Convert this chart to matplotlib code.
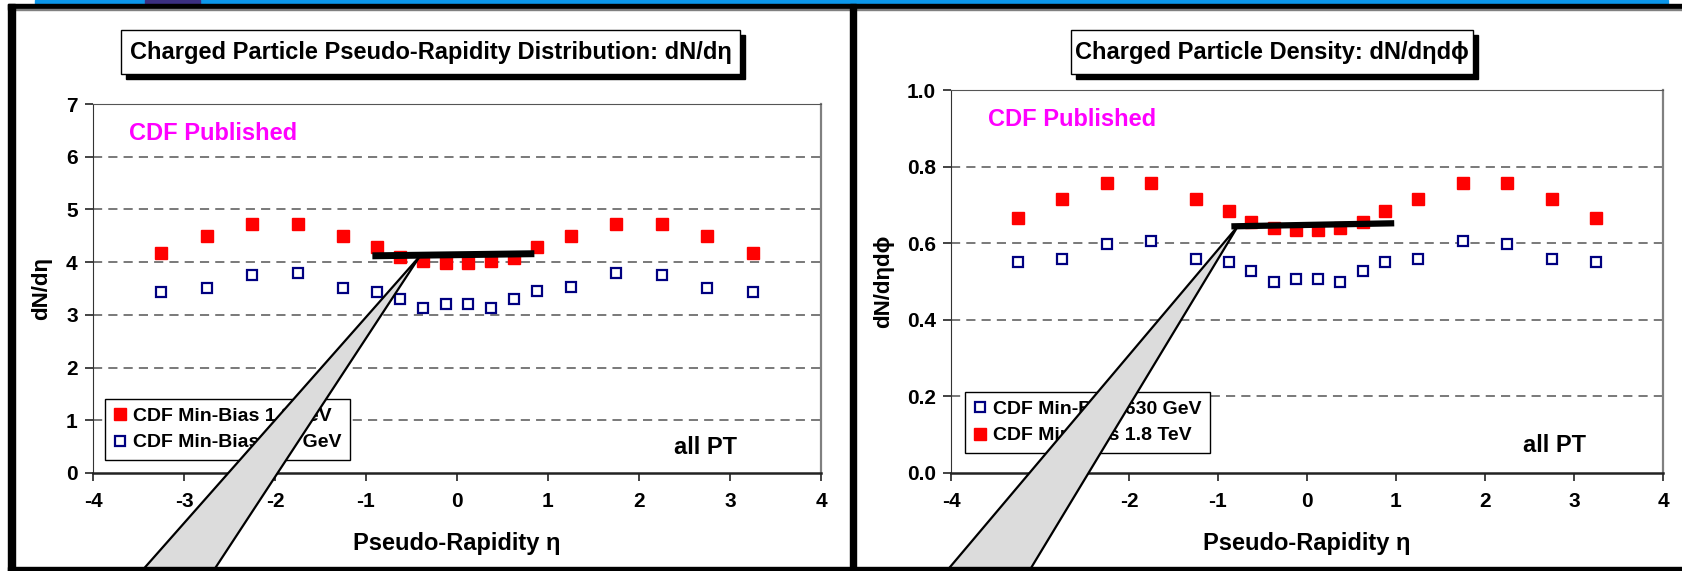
import numpy as np
import matplotlib
matplotlib.use('Agg')
import matplotlib.pyplot as plt
from matplotlib.patches import Rectangle, Polygon

plt.rcParams['font.family'] = ['Liberation Sans', 'DejaVu Sans']
plt.rcParams['font.weight'] = 'bold'
plt.rcParams['axes.unicode_minus'] = False

# data
eta = [-3.25, -2.75, -2.25, -1.75, -1.25, -0.875, -0.625, -0.375, -0.125,
       0.125, 0.375, 0.625, 0.875, 1.25, 1.75, 2.25, 2.75, 3.25]
dndeta_1800 = [4.18, 4.49, 4.73, 4.73, 4.49, 4.29, 4.09, 4.02, 3.99,
               3.99, 4.02, 4.07, 4.29, 4.49, 4.73, 4.73, 4.49, 4.18]
dndeta_630 = [3.44, 3.51, 3.75, 3.80, 3.51, 3.44, 3.30, 3.13, 3.20,
              3.20, 3.13, 3.31, 3.45, 3.52, 3.80, 3.75, 3.51, 3.44]
density_1800 = [0.665, 0.715, 0.756, 0.756, 0.715, 0.685, 0.655, 0.640, 0.635,
                0.635, 0.640, 0.655, 0.685, 0.715, 0.756, 0.756, 0.715, 0.665]
density_630 = [0.550, 0.559, 0.598, 0.607, 0.559, 0.550, 0.527, 0.498, 0.507,
               0.507, 0.498, 0.527, 0.550, 0.559, 0.607, 0.598, 0.559, 0.550]

label_1800 = 'CDF Min-Bias 1.8 TeV'
label_630 = 'CDF Min-Bias 630 GeV'
xticks = [-4, -3, -2, -1, 0, 1, 2, 3, 4]

W, H = 1683, 571
fig = plt.figure(figsize=(W / 100, H / 100), dpi=100)
fig.patch.set_facecolor('white')

RED = '#ff0000'
NAVY = '#000080'


def style_axes(ax, ymax, yticks, fmt):
    ax.set_xlim(-4, 4)
    ax.set_ylim(0, ymax)
    ax.set_xticks(xticks)
    ax.set_yticks(yticks)
    ax.set_yticklabels([fmt.format(v) for v in yticks])
    ax.tick_params(axis='both', direction='out', length=6, width=1.2,
                   labelsize=15, color='#222222')
    ax.tick_params(axis='x', pad=8)
    ax.tick_params(axis='y', pad=5)
    for v in yticks[1:-1]:
        ax.axhline(v, color='#555555', lw=1.1, ls=(0, (6, 4)), zorder=1)
    ax.spines['left'].set_color('#333333')
    ax.spines['bottom'].set_color('#222222')
    ax.spines['bottom'].set_linewidth(1.8)
    ax.spines['top'].set_color('#555555')
    ax.spines['right'].set_color('#808080')
    ax.spines['right'].set_linewidth(1.6)
    ax.set_xlabel('Pseudo-Rapidity η', fontsize=17, fontweight='bold')
    ax.xaxis.label.set_va('center')


def draw_points(ax, y, color, filled, label):
    if filled:
        ax.plot(eta, y, 's', ms=8.5, color=color, mec=color, label=label, zorder=4)
    else:
        ax.plot(eta, y, 's', ms=7.5, mfc='white', mec=color, mew=1.6,
                label=label, zorder=4)


# left panel: dN/deta
ax1 = fig.add_axes([93 / W, 1 - 473 / H, 728 / W, 369 / H])
style_axes(ax1, 7, [0, 1, 2, 3, 4, 5, 6, 7], '{:d}')
draw_points(ax1, dndeta_1800, RED, True, label_1800)
draw_points(ax1, dndeta_630, NAVY, False, label_630)
ax1.set_ylabel('dN/dη', fontsize=16, fontweight='bold')
ax1.yaxis.label.set_va('center')
ax1.yaxis.set_label_coords(-0.070, 0.5)
ax1.xaxis.set_label_coords(0.5, -0.19)
ax1.plot([-0.93, 0.85], [4.12, 4.16], color='black', lw=5, solid_capstyle='butt', zorder=6)
ax1.text(0.049, 0.921, 'CDF Published', transform=ax1.transAxes, color='#ff00ff',
         fontsize=17, fontweight='bold', va='center', ha='left')
ax1.text(0.842, 0.070, 'all PT', transform=ax1.transAxes, fontsize=17,
         fontweight='bold', va='center', ha='center')
leg1 = ax1.legend(loc='lower left', bbox_to_anchor=(0.0165, 0.035), borderaxespad=0,
                  fontsize=14, frameon=True, fancybox=False, framealpha=1,
                  edgecolor='black', handlelength=0.6, handletextpad=0.4,
                  labelspacing=0.45, borderpad=0.45)
leg1.get_frame().set_linewidth(1.0)

# right panel: dN/deta dphi
ax2 = fig.add_axes([951 / W, 1 - 473 / H, 712 / W, 383 / H])
style_axes(ax2, 1.0, [0.0, 0.2, 0.4, 0.6, 0.8, 1.0], '{:.1f}')
draw_points(ax2, density_630, NAVY, False, label_630)
draw_points(ax2, density_1800, RED, True, label_1800)
ax2.set_ylabel('dN/dηdϕ', fontsize=16, fontweight='bold')
ax2.yaxis.label.set_va('center')
ax2.yaxis.set_label_coords(-0.094, 0.5)
ax2.xaxis.set_label_coords(0.5, -0.183)
ax2.plot([-0.85, 0.98], [0.644, 0.652], color='black', lw=4.5, solid_capstyle='butt', zorder=6)
ax2.text(0.052, 0.924, 'CDF Published', transform=ax2.transAxes, color='#ff00ff',
         fontsize=17, fontweight='bold', va='center', ha='left')
ax2.text(0.848, 0.0705, 'all PT', transform=ax2.transAxes, fontsize=17,
         fontweight='bold', va='center', ha='center')
leg2 = ax2.legend(loc='lower left', bbox_to_anchor=(0.0197, 0.052), borderaxespad=0,
                  fontsize=14, frameon=True, fancybox=False, framealpha=1,
                  edgecolor='black', handlelength=0.6, handletextpad=0.4,
                  labelspacing=0.45, borderpad=0.45)
leg2.get_frame().set_linewidth(1.0)

# overlay in pixel coordinates: slide frame, title boxes, callout wedges
ov = fig.add_axes([0, 0, 1, 1])
ov.set_xlim(0, W)
ov.set_ylim(H, 0)
ov.axis('off')
ov.patch.set_alpha(0)
ov.set_zorder(10)

titles = [
    ('Charged Particle Pseudo-Rapidity Distribution: dN/dη', 121, 740),
    ('Charged Particle Density: dN/dηdϕ', 1071, 1473),
]
for txt, x0, x1 in titles:
    ov.add_patch(Rectangle((x0 + 5, 35), x1 - x0, 44, color='black', zorder=1))
    ov.add_patch(Rectangle((x0, 30), x1 - x0, 44, facecolor='white',
                           edgecolor='black', lw=1.0, zorder=2))
    ov.text((x0 + x1) / 2, 52, txt, fontsize=17, fontweight='bold',
            ha='center', va='center', zorder=3)

wedges = [
    [(420, 256), (140, 573), (212, 573)],
    [(1238, 226), (945, 573), (1028, 573)],
]
for pts in wedges:
    ov.add_patch(Polygon(pts, closed=True, facecolor='#dcdcdc', edgecolor='black',
                         lw=1.6, joinstyle='miter', zorder=4))

# slide frame
ov.add_patch(Rectangle((35, 0), 1633, 3.5, color='#0c97ea', zorder=5))
ov.add_patch(Rectangle((145, 0), 55, 3.5, color='#3b2f80', zorder=5))
ov.add_patch(Rectangle((8, 3.5), W - 8, 5.5, color='black', zorder=5))
ov.add_patch(Rectangle((8, 9), W - 8, 1.2, color='#808080', zorder=5))
ov.add_patch(Rectangle((8, 3.5), 7, H - 3.5, color='black', zorder=5))
ov.add_patch(Rectangle((850, 3.5), 6.5, H - 3.5, color='black', zorder=5))
ov.add_patch(Rectangle((8, 566.5), W - 8, 5, color='black', zorder=5))

fig.savefig('out.png', dpi=100)
plt.close(fig)
